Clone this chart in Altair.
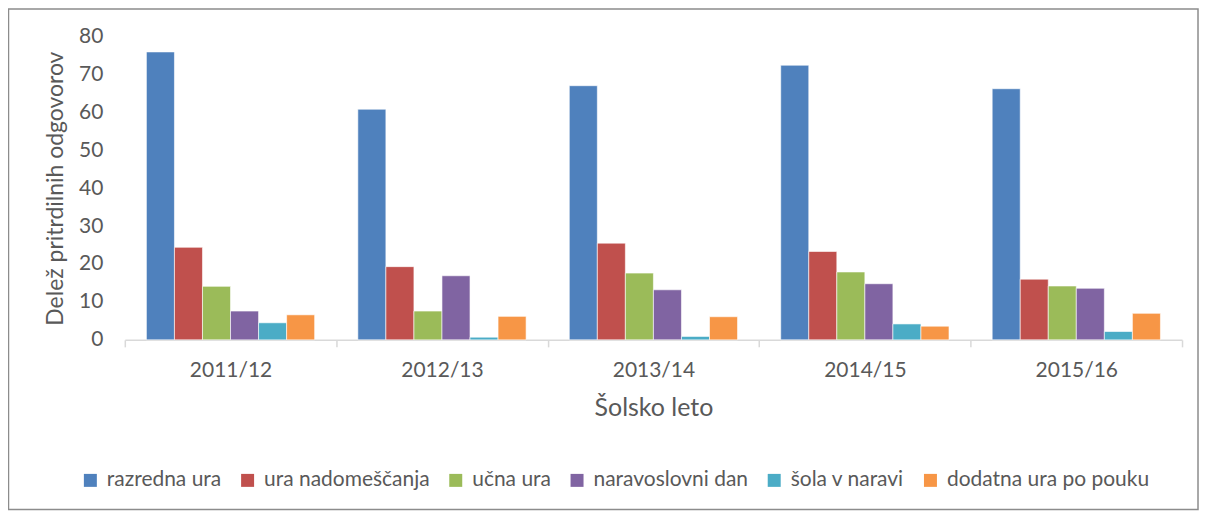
import altair as alt
import pandas as pd

years = ["2011/12", "2012/13", "2013/14", "2014/15", "2015/16"]
series = ["razredna ura", "ura nadomeščanja", "učna ura",
          "naravoslovni dan", "šola v naravi", "dodatna ura po pouku"]
colors = ["#4F81BD", "#C0504D", "#9BBB59", "#8064A2", "#4BACC6", "#F79646"]

razredna_ura = [75.9, 60.8, 67.0, 72.4, 66.2]
ura_nadomescanja = [24.4, 19.3, 25.5, 23.3, 16.0]
ucna_ura = [14.1, 7.6, 17.6, 17.9, 14.2]
naravoslovni_dan = [7.6, 16.9, 13.2, 14.8, 13.6]
sola_v_naravi = [4.5, 0.7, 0.9, 4.2, 2.2]
dodatna_ura = [6.6, 6.2, 6.1, 3.6, 7.0]

values = [razredna_ura, ura_nadomescanja, ucna_ura,
          naravoslovni_dan, sola_v_naravi, dodatna_ura]

rows = []
for s, vals in zip(series, values):
    for y, v in zip(years, vals):
        rows.append({"leto": y, "serija": s, "delez": v})
df = pd.DataFrame(rows)

FONT = "Lato"
TXT = "#595959"

bars = alt.Chart(df).mark_bar(stroke="white", strokeWidth=0.6).encode(
    x=alt.X("leto:N", sort=years,
            scale=alt.Scale(paddingInner=0, paddingOuter=0),
            axis=alt.Axis(title="Šolsko leto", labelAngle=0,
                          tickBand="extent", tickSize=7, labelPadding=13,
                          titlePadding=15, titleFontSize=25,
                          domainColor="#D9D9D9",
                          tickColor="#D9D9D9", domainWidth=1.5, tickWidth=1.5)),
    xOffset=alt.XOffset("serija:N", sort=series,
                        scale=alt.Scale(paddingInner=0, paddingOuter=0.77)),
    y=alt.Y("delez:Q", scale=alt.Scale(domain=[0, 80], nice=False),
            axis=alt.Axis(title="Delež pritrdilnih odgovorov", values=[0, 10, 20, 30, 40, 50, 60, 70, 80],
                          domain=False, ticks=False, grid=False,
                          labelPadding=22, titlePadding=11, titleFontSize=23)),
    color=alt.Color("serija:N", sort=series,
                    scale=alt.Scale(domain=series, range=colors),
                    legend=alt.Legend(title=None, orient="none", direction="horizontal",
                                      columns=6, legendX=-45, legendY=434,
                                      symbolType="square", symbolSize=169,
                                      symbolStrokeWidth=0, labelOffset=6,
                                      columnPadding=15.5, labelFontSize=21,
                                      labelLimit=400,
                                      labelFont=FONT, labelColor=TXT, padding=0)),
)

frame = alt.Chart(alt.Data(values=[{}])).mark_rect(
    filled=False, stroke="#8C8C8C", strokeWidth=1.5, clip=False
).encode(
    x=alt.value(-116.5), x2=alt.value(1075),
    y=alt.value(-27.5), y2=alt.value(474),
)

chart = alt.layer(frame, bars).properties(
    width=1059, height=304,
    autosize=alt.AutoSizeParams(type="none"),
    padding={"left": 117, "top": 28, "right": 18, "bottom": 171},
).configure_view(stroke=None).configure_axis(
    labelFont=FONT, titleFont=FONT, labelFontSize=21, titleFontSize=22,
    labelColor=TXT, titleColor=TXT, titleFontWeight="normal",
)

chart.save("out.html", embed_options={"renderer": "svg", "actions": False})
